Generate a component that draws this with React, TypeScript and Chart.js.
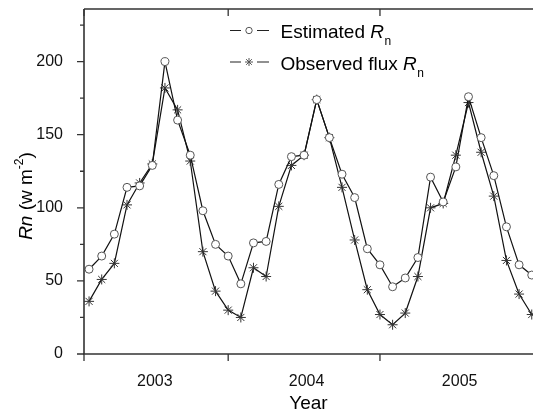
import React, { useEffect, useRef } from 'react';
import { Chart, registerables } from 'chart.js';

Chart.register(...registerables);

// Monthly series, Jan 2003 .. Dec 2005 (x = month number)
const MONTHS = [
  1, 2, 3, 4, 5, 6, 7, 8, 9, 10, 11, 12,
  13, 14, 15, 16, 17, 18, 19, 20, 21, 22, 23, 24,
  25, 26, 27, 28, 29, 30, 31, 32, 33, 34, 35, 36,
];
const ESTIMATED = [
  58, 67, 82, 114, 115, 129, 200, 160, 136, 98, 75, 67,
  48, 76, 77, 116, 135, 136, 174, 148, 123, 107, 72, 61,
  46, 52, 66, 121, 104, 128, 176, 148, 122, 87, 61, 54,
];
const OBSERVED = [
  36, 51, 62, 102, 117, 130, 182, 167, 132, 70, 43, 30,
  25, 59, 53, 101, 129, 136, 174, 148, 114, 78, 44, 27,
  20, 28, 53, 100, 103, 136, 172, 138, 108, 64, 41, 27,
];
const YEAR_LABELS = ['2003', '2004', '2005'];
const YEAR_LABEL_AT = [6.2, 18.2, 30.3];
const YEAR_BOUNDARIES = [12, 24];
const Y_MAJOR = [0, 50, 100, 150, 200];
const Y_MINOR = [25, 75, 125, 175, 225];

const FONT = "'Liberation Sans', Arial, sans-serif";

function drawStar(ctx: CanvasRenderingContext2D, cx: number, cy: number, r: number) {
  ctx.beginPath();
  for (let k = 0; k < 4; k++) {
    const ang = (Math.PI / 4) * k;
    const dx = Math.cos(ang) * r;
    const dy = Math.sin(ang) * r;
    ctx.moveTo(cx - dx, cy - dy);
    ctx.lineTo(cx + dx, cy + dy);
  }
  ctx.stroke();
}

function zeroPadding(scale: any) {
  scale.paddingTop = 0;
  scale.paddingBottom = 0;
  scale.paddingLeft = 0;
  scale.paddingRight = 0;
}

const framePlugin = {
  id: 'frame',
  afterDraw(chart: any) {
    const { ctx, chartArea: a, scales } = chart;
    const x = scales.x;
    const y = scales.y;
    ctx.save();
    // frame lines
    ctx.strokeStyle = '#333';
    ctx.lineWidth = 1.6;
    ctx.beginPath();
    ctx.moveTo(a.left, a.top);
    ctx.lineTo(a.right, a.top);
    ctx.moveTo(a.left, a.top);
    ctx.lineTo(a.left, a.bottom);
    ctx.moveTo(a.left - 1, a.bottom);
    ctx.lineTo(a.right, a.bottom);
    ctx.stroke();

    // y ticks
    ctx.lineWidth = 1.3;
    ctx.beginPath();
    Y_MAJOR.forEach((v) => {
      const py = y.getPixelForValue(v);
      ctx.moveTo(a.left - 7, py);
      ctx.lineTo(a.left, py);
    });
    Y_MINOR.forEach((v) => {
      const py = y.getPixelForValue(v);
      ctx.moveTo(a.left - 4, py);
      ctx.lineTo(a.left, py);
    });
    // x ticks
    [x.min, ...YEAR_BOUNDARIES].forEach((v: number) => {
      const px = x.getPixelForValue(v);
      ctx.moveTo(px, a.bottom);
      ctx.lineTo(px, a.bottom + 7);
      ctx.moveTo(px, a.top);
      ctx.lineTo(px, a.top + 7);
    });
    ctx.stroke();

    // legend
    ctx.fillStyle = '#000';
    ctx.textAlign = 'left';
    ctx.textBaseline = 'alphabetic';
    const rows = [
      { text: 'Estimated ', base: 38, kind: 'circle' },
      { text: 'Observed flux ', base: 69.5, kind: 'star' },
    ];
    rows.forEach((row) => {
      const my = row.base - 7.5;
      ctx.strokeStyle = '#222';
      ctx.lineWidth = 1.2;
      ctx.beginPath();
      ctx.moveTo(230, my);
      ctx.lineTo(241, my);
      ctx.moveTo(257, my);
      ctx.lineTo(269, my);
      ctx.stroke();
      ctx.strokeStyle = '#555';
      ctx.lineWidth = 1;
      if (row.kind === 'circle') {
        ctx.beginPath();
        ctx.arc(249, my, 3.2, 0, Math.PI * 2);
        ctx.fillStyle = '#fff';
        ctx.fill();
        ctx.stroke();
      } else {
        drawStar(ctx, 249, my, 4);
      }
      ctx.fillStyle = '#000';
      ctx.font = `19px ${FONT}`;
      let tx = 280.5;
      ctx.fillText(row.text, tx, row.base);
      tx += ctx.measureText(row.text).width;
      ctx.font = `italic 19px ${FONT}`;
      ctx.fillText('R', tx, row.base);
      tx += ctx.measureText('R').width + 0.5;
      ctx.font = `12px ${FONT}`;
      ctx.fillText('n', tx, row.base + 7);
    });

    // y title (rotated)
    const parts = [
      { t: 'Rn', f: `italic 19px ${FONT}`, dy: 0 },
      { t: ' (w m', f: `19px ${FONT}`, dy: 0 },
      { t: '-2', f: `12px ${FONT}`, dy: -9 },
      { t: ')', f: `19px ${FONT}`, dy: 0 },
    ];
    let total = 0;
    parts.forEach((p) => {
      ctx.font = p.f;
      total += ctx.measureText(p.t).width;
    });
    ctx.translate(32, 196);
    ctx.rotate(-Math.PI / 2);
    let px = -total / 2;
    parts.forEach((p) => {
      ctx.font = p.f;
      ctx.fillText(p.t, px, p.dy);
      px += ctx.measureText(p.t).width;
    });
    ctx.setTransform(1, 0, 0, 1, 0, 0);

    // x title
    ctx.font = `19px ${FONT}`;
    ctx.textAlign = 'center';
    ctx.fillText('Year', (a.left + a.right) / 2, 409);
    ctx.restore();
  },
};

export default function App() {
  const ref = useRef<HTMLCanvasElement | null>(null);
  useEffect(() => {
    if (!ref.current) return;
    const chart = new Chart(ref.current, {
      type: 'line',
      data: {
        datasets: [
          {
            label: 'Estimated Rn',
            data: MONTHS.map((m, i) => ({ x: m, y: ESTIMATED[i] })),
            borderColor: '#111',
            borderWidth: 1.2,
            pointStyle: 'circle',
            pointRadius: 4,
            pointBorderWidth: 1,
            pointBorderColor: '#555',
            pointBackgroundColor: '#fff',
            fill: false,
            tension: 0,
          },
          {
            label: 'Observed flux Rn',
            data: MONTHS.map((m, i) => ({ x: m, y: OBSERVED[i] })),
            borderColor: '#111',
            borderWidth: 1.2,
            pointStyle: 'star',
            pointRadius: 5,
            pointBorderWidth: 1,
            pointBorderColor: '#333',
            pointBackgroundColor: '#333',
            fill: false,
            tension: 0,
          },
        ],
      },
      options: {
        animation: false,
        responsive: false,
        devicePixelRatio: 1,
        layout: { autoPadding: false, padding: { top: 9, right: 0, bottom: 0, left: 0 } },
        plugins: {
          legend: { display: false },
          tooltip: { enabled: false },
        },
        scales: {
          x: {
            type: 'linear',
            min: 0.6,
            max: 36.1,
            grid: { display: false },
            border: { display: false },
            afterBuildTicks: (scale: any) => {
              scale.ticks = YEAR_LABEL_AT.map((v) => ({ value: v }));
            },
            afterFit: (scale: any) => {
              scale.height = 58;
              zeroPadding(scale);
            },
            ticks: {
              padding: 10,
              color: '#111',
              font: { family: FONT, size: 16 },
              maxRotation: 0,
              autoSkip: false,
              callback: (value: any) => {
                const idx = YEAR_LABEL_AT.indexOf(Number(value));
                return idx >= 0 ? YEAR_LABELS[idx] : '';
              },
            },
          },
          y: {
            type: 'linear',
            min: 0,
            max: 236,
            grid: { display: false },
            border: { display: false },
            afterBuildTicks: (scale: any) => {
              scale.ticks = Y_MAJOR.map((v) => ({ value: v }));
            },
            afterFit: (scale: any) => {
              scale.width = 84;
              zeroPadding(scale);
            },
            ticks: {
              padding: 13,
              color: '#111',
              font: { family: FONT, size: 16 },
            },
          },
        },
      },
      plugins: [framePlugin],
    } as any);
    return () => chart.destroy();
  }, []);
  return (
    <div style={{ position: 'fixed', left: 0, top: 0, width: 533, height: 412, background: '#fff' }}>
      <canvas ref={ref} width={533} height={412} style={{ display: 'block' }} />
    </div>
  );
}
